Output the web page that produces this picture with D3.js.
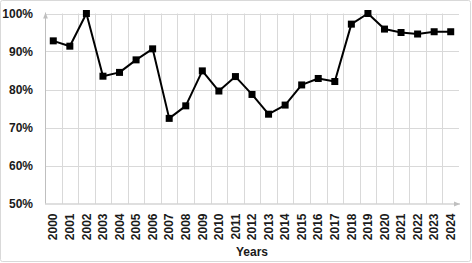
<!DOCTYPE html>
<html><head><meta charset="utf-8">
<script src="https://cdn.jsdelivr.net/npm/d3@7"></script>
<style>html,body{margin:0;padding:0;background:#fff;}svg{display:block;}</style>
</head><body>
<svg id="c" width="472" height="263"></svg>
<script>
const years = ["2000","2001","2002","2003","2004","2005","2006","2007","2008","2009","2010","2011","2012","2013","2014","2015","2016","2017","2018","2019","2020","2021","2022","2023","2024"];
const values = [92.8,91.4,100,83.5,84.5,87.8,90.7,72.4,75.7,84.9,79.6,83.4,78.7,73.5,75.9,81.2,82.9,82.1,97.2,100,95.9,95.0,94.6,95.2,95.2];
const yTicks = [50,60,70,80,90,100];
const xTitle = "Years";

const svg = d3.select("#c");
const m = {l:45, r:459, t:13.5, b:203.5};
const font = "'Liberation Sans', Arial, sans-serif";

svg.append("rect").attr("x",0.5).attr("y",0.5).attr("width",470).attr("height",261)
  .attr("fill","#fff").attr("stroke","#d9d9d9").attr("rx",2);

const x = d3.scaleBand().domain(years).range([m.l, m.r]);
const y = d3.scaleLinear().domain([50,100]).range([m.b, m.t]);

const defs = svg.append("defs");
defs.append("marker").attr("id","arr").attr("viewBox","0 0 10 10").attr("refX",10).attr("refY",5)
  .attr("markerWidth",6).attr("markerHeight",6).attr("orient","auto")
  .append("path").attr("d","M0,1 L10,5 L0,9 Z").attr("fill","#bfbfbf");

// gridlines
const g = svg.append("g");
g.selectAll("line.h").data(yTicks.filter(d=>d>50)).join("line")
  .attr("x1",m.l).attr("x2",m.r).attr("y1",d=>Math.round(y(d))+0.5).attr("y2",d=>Math.round(y(d))+0.5)
  .attr("stroke","#d9d9d9").attr("stroke-width",1);
g.selectAll("line.v").data(years.slice(1)).join("line")
  .attr("x1",d=>Math.round(x(d))+0.5).attr("x2",d=>Math.round(x(d))+0.5).attr("y1",m.t).attr("y2",m.b)
  .attr("stroke","#d9d9d9").attr("stroke-width",1);

// axes
svg.append("line").attr("x1",m.l+0.5).attr("x2",m.l+0.5).attr("y1",m.b).attr("y2",m.t-1)
  .attr("stroke","#bfbfbf").attr("stroke-width",1).attr("marker-end","url(#arr)");
svg.append("line").attr("x1",m.l).attr("x2",m.r+1).attr("y1",m.b+0.5).attr("y2",m.b+0.5)
  .attr("stroke","#bfbfbf").attr("stroke-width",1).attr("marker-end","url(#arr)");

// y labels
const ya = svg.append("g").attr("transform",`translate(${m.l},0)`)
  .call(d3.axisLeft(y).tickValues(yTicks).tickFormat(d=>d+"%").tickSize(0).tickPadding(12));
ya.select(".domain").remove();
ya.selectAll("text").attr("font-family",font).attr("font-size",12).attr("font-weight","bold").attr("fill","#1a1a1a");

// x labels
const xa = svg.append("g").attr("transform",`translate(0,${m.b})`)
  .call(d3.axisBottom(x).tickSize(0).tickPadding(0));
xa.select(".domain").remove();
xa.selectAll("text").attr("font-family",font).attr("font-size",12).attr("font-weight","bold").attr("fill","#1a1a1a")
  .attr("transform","rotate(-90)").attr("text-anchor","end").attr("dy","0.35em").attr("dx","-10").attr("y",0).attr("x",0);

svg.append("text").attr("x",(m.l+m.r)/2).attr("y",256).attr("text-anchor","middle")
  .attr("font-family",font).attr("font-size",12).attr("font-weight","bold").attr("fill","#1a1a1a").text(xTitle);

// line
const data = years.map((yr,i)=>({yr, v:values[i]}));
svg.append("path").datum(data)
  .attr("d", d3.line().x(d=>x(d.yr)+x.bandwidth()/2).y(d=>y(d.v)))
  .attr("fill","none").attr("stroke","#000").attr("stroke-width",2).attr("stroke-linejoin","round");
svg.selectAll("rect.pt").data(data).join("rect").attr("class","pt")
  .attr("x",d=>x(d.yr)+x.bandwidth()/2-3.5).attr("y",d=>y(d.v)-3.5).attr("width",7).attr("height",7).attr("fill","#000");
</script>
</body></html>
